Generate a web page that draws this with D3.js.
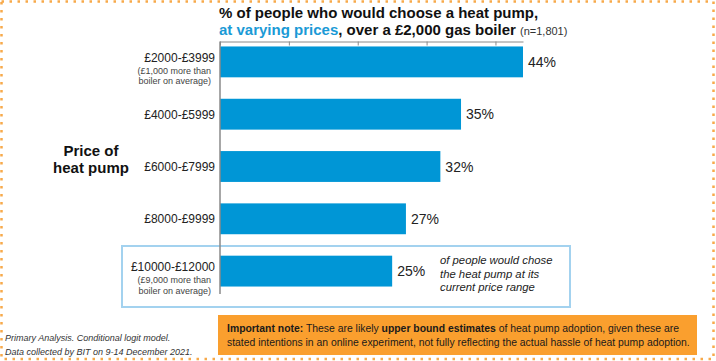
<!DOCTYPE html>
<html>
<head>
<meta charset="utf-8">
<script src="https://cdn.jsdelivr.net/npm/d3@7"></script>
<style>
  body { margin: 0; background: #fff; }
  svg { display: block; font-family: Arial, "Liberation Sans", sans-serif; }
</style>
</head>
<body>
<div id="chart"></div>
<script>
// Data
const categories = ["£2000-£3999", "£4000-£5999", "£6000-£7999", "£8000-£9999", "£10000-£12000"];
const subLabels = [["(£1,000 more than", "boiler on average)"], [], [], [], ["(£9,000 more than", "boiler on average)"]];
const shares = [44, 35, 32, 27, 25];
const axisTicks = [0, 10, 20, 30, 40];

const width = 716, height = 361;
const blue = "#0096d6";

const svg = d3.select("#chart").append("svg")
    .attr("width", width)
    .attr("height", height);

// dotted outer frame
svg.append("rect")
    .attr("x", 1.5).attr("y", 1.5)
    .attr("width", 712).attr("height", 357.5)
    .attr("fill", "none")
    .attr("stroke", "#f7a94a")
    .attr("stroke-width", 2.5)
    .attr("stroke-dasharray", "2.5,5.5");

// scales
const xScale = d3.scaleLinear().domain([0, 44]).range([220, 523]);
const yScale = d3.scaleBand()
    .domain(categories)
    .range([36, 297])
    .paddingInner(0.41)
    .paddingOuter(0.2);

// highlight box round the last row
svg.append("rect")
    .attr("x", 122).attr("y", 246)
    .attr("width", 448).attr("height", 61)
    .attr("fill", "none")
    .attr("stroke", "#a3d2ef")
    .attr("stroke-width", 2);

// bars
svg.selectAll(".bar")
    .data(shares)
    .enter().append("rect")
    .attr("class", "bar")
    .attr("x", xScale(0))
    .attr("y", (d, i) => yScale(categories[i]))
    .attr("width", d => xScale(d) - xScale(0))
    .attr("height", yScale.bandwidth())
    .attr("fill", blue);

// top axis
const axisTop = svg.append("g")
    .attr("transform", "translate(0,41.5)")
    .call(d3.axisTop(xScale).tickValues(axisTicks).tickSize(-4).tickSizeOuter(0).tickFormat(""));
axisTop.selectAll("path, line").attr("stroke", "#8a8a8a");

// left axis line
svg.append("line")
    .attr("x1", 220).attr("x2", 220)
    .attr("y1", 41.5).attr("y2", 294)
    .attr("stroke", "#8a8a8a")
    .attr("stroke-width", 1.5);

// value labels
svg.selectAll(".val")
    .data(shares)
    .enter().append("text")
    .attr("x", d => xScale(d) + 5)
    .attr("y", (d, i) => yScale(categories[i]) + yScale.bandwidth() / 2 + 5)
    .attr("font-size", 14)
    .attr("fill", "#222")
    .text(d => d + "%");

// category labels
const catG = svg.selectAll(".cat")
    .data(categories)
    .enter().append("g")
    .attr("transform", d => "translate(215," + (yScale(d) + yScale.bandwidth() / 2) + ")");

catG.append("text")
    .attr("text-anchor", "end")
    .attr("y", (d, i) => subLabels[i].length ? 0 : 4.5)
    .attr("font-size", 12)
    .attr("fill", "#222")
    .text(d => d);

catG.each(function(d, i) {
    d3.select(this).selectAll(".sub")
        .data(subLabels[i])
        .enter().append("text")
        .attr("x", -4)
        .attr("y", (s, j) => 12 + j * 10.5)
        .attr("text-anchor", "end")
        .attr("font-size", 9)
        .attr("fill", "#444")
        .text(s => s);
});

// y title
svg.append("text")
    .attr("text-anchor", "middle")
    .attr("font-size", 15)
    .attr("font-weight", "bold")
    .attr("fill", "#111")
    .selectAll("tspan")
    .data(["Price of", "heat pump"])
    .enter().append("tspan")
    .attr("x", 91)
    .attr("y", (d, i) => 156 + i * 17)
    .text(d => d);

// chart title
svg.append("text")
    .attr("x", 219).attr("y", 18)
    .attr("font-size", 15)
    .attr("font-weight", "bold")
    .attr("fill", "#111")
    .text("% of people who would choose a heat pump,");

const t2 = svg.append("text")
    .attr("x", 219).attr("y", 35)
    .attr("font-size", 15)
    .attr("font-weight", "bold")
    .attr("fill", "#111");
t2.append("tspan").attr("fill", "#1a9ad6").text("at varying prices");
t2.append("tspan").text(", over a £2,000 gas boiler ");
t2.append("tspan").attr("font-weight", "normal").attr("font-size", 11).attr("fill", "#333").text("(n=1,801)");

// annotation in the box
svg.append("text")
    .attr("font-size", 11.3)
    .attr("font-style", "italic")
    .attr("fill", "#222")
    .selectAll("tspan")
    .data(["of people would chose", "the heat pump at its", "current price range"])
    .enter().append("tspan")
    .attr("x", 440)
    .attr("y", (d, i) => 264 + i * 13.5)
    .text(d => d);

// footnote
svg.append("text")
    .attr("font-size", 9)
    .attr("font-style", "italic")
    .attr("fill", "#333")
    .selectAll("tspan")
    .data(["Primary Analysis. Conditional logit model.", "Data collected by BIT on 9-14 December 2021."])
    .enter().append("tspan")
    .attr("x", 5)
    .attr("y", (d, i) => 341 + i * 13.5)
    .text(d => d);

// important note box
svg.append("rect")
    .attr("x", 218).attr("y", 315)
    .attr("width", 479).attr("height", 40)
    .attr("fill", "#fa9f2e");

const n1 = svg.append("text")
    .attr("x", 227).attr("y", 332)
    .attr("font-size", 10.4)
    .attr("fill", "#1a1a1a");
n1.append("tspan").attr("font-weight", "bold").text("Important note:");
n1.append("tspan").text(" These are likely ");
n1.append("tspan").attr("font-weight", "bold").text("upper bound estimates");
n1.append("tspan").text(" of heat pump adoption, given these are");

svg.append("text")
    .attr("x", 227).attr("y", 346)
    .attr("font-size", 10.4)
    .attr("fill", "#1a1a1a")
    .text("stated intentions in an online experiment, not fully reflecting the actual hassle of heat pump adoption.");
</script>
</body>
</html>
